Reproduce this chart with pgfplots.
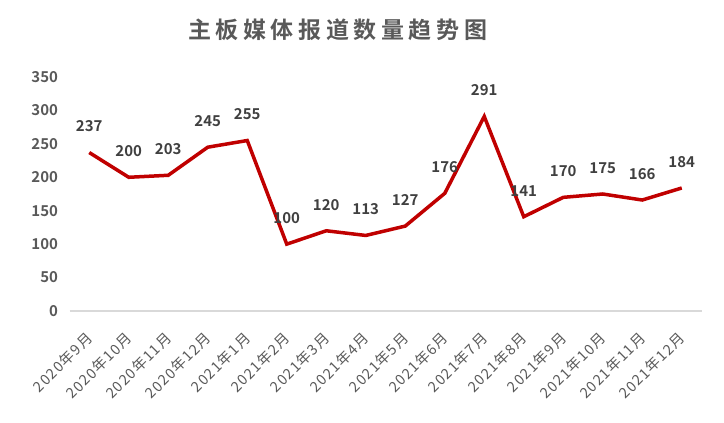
\documentclass[border=0pt]{standalone}
\usepackage{pgfplots}
\pgfplotsset{compat=1.18}
\usepackage{fontspec}
\setmainfont{Noto Sans CJK SC}[BoldFont={Noto Sans CJK SC Bold}]
\newfontfamily\titlefont[LetterSpace=20]{Noto Sans CJK SC Bold}
\newfontfamily\tickfont[LetterSpace=8]{Noto Sans CJK SC}

\definecolor{linered}{RGB}{192,0,0}
\definecolor{labelgray}{RGB}{64,64,64}
\definecolor{tickgray}{RGB}{89,89,89}
\definecolor{axisgray}{RGB}{217,217,217}

\begin{document}
\begin{tikzpicture}
\path[use as bounding box] (0,0) rectangle (724bp,423bp);

\node[font=\titlefont\fontsize{23bp}{27bp}\selectfont, text=tickgray] at (337.5bp,393bp) {主板媒体报道数量趋势图};

\begin{axis}[
at={(69.5bp,112bp)}, anchor=south west,
scale only axis,
width=632bp, height=234bp,
xmin=-0.5, xmax=15.5,
ymin=0, ymax=350,
ytick={0,50,...,350},
xtick={0,...,15},
xticklabels={2020年9月,2020年10月,2020年11月,2020年12月,2021年1月,2021年2月,2021年3月,2021年4月,2021年5月,2021年6月,2021年7月,2021年8月,2021年9月,2021年10月,2021年11月,2021年12月},
extra x ticks={-0.5,0.5,...,15.5},
extra x tick labels={},
extra x tick style={major tick length=5bp, tick style={draw=axisgray, line width=1bp}, tick align=outside},
major x tick style={draw=none},
ytick style={draw=none},
axis x line*=bottom,
axis y line*=left,
x axis line style={draw=axisgray, line width=1.2bp, -},
y axis line style={draw=none},
/pgf/number format/assume math mode=true,
xticklabel style={font=\tickfont\fontsize{14.5bp}{16bp}\selectfont, text=tickgray, xshift=3bp, yshift=-22bp, rotate=45, anchor=east},
yticklabel style={font=\bfseries\fontsize{15bp}{17bp}\selectfont, text=tickgray, anchor=east, xshift=-8bp},
clip=false,
nodes near coords,
every node near coord/.append style={font=\bfseries\fontsize{15bp}{17bp}\selectfont, text=labelgray, anchor=center, yshift=26bp},
]
\addplot[color=linered, line width=3.5bp, mark=none] coordinates {
(0,237) (1,200) (2,203) (3,245) (4,255) (5,100) (6,120) (7,113)
(8,127) (9,176) (10,291) (11,141) (12,170) (13,175) (14,166) (15,184)
};
\end{axis}
\end{tikzpicture}
\end{document}
